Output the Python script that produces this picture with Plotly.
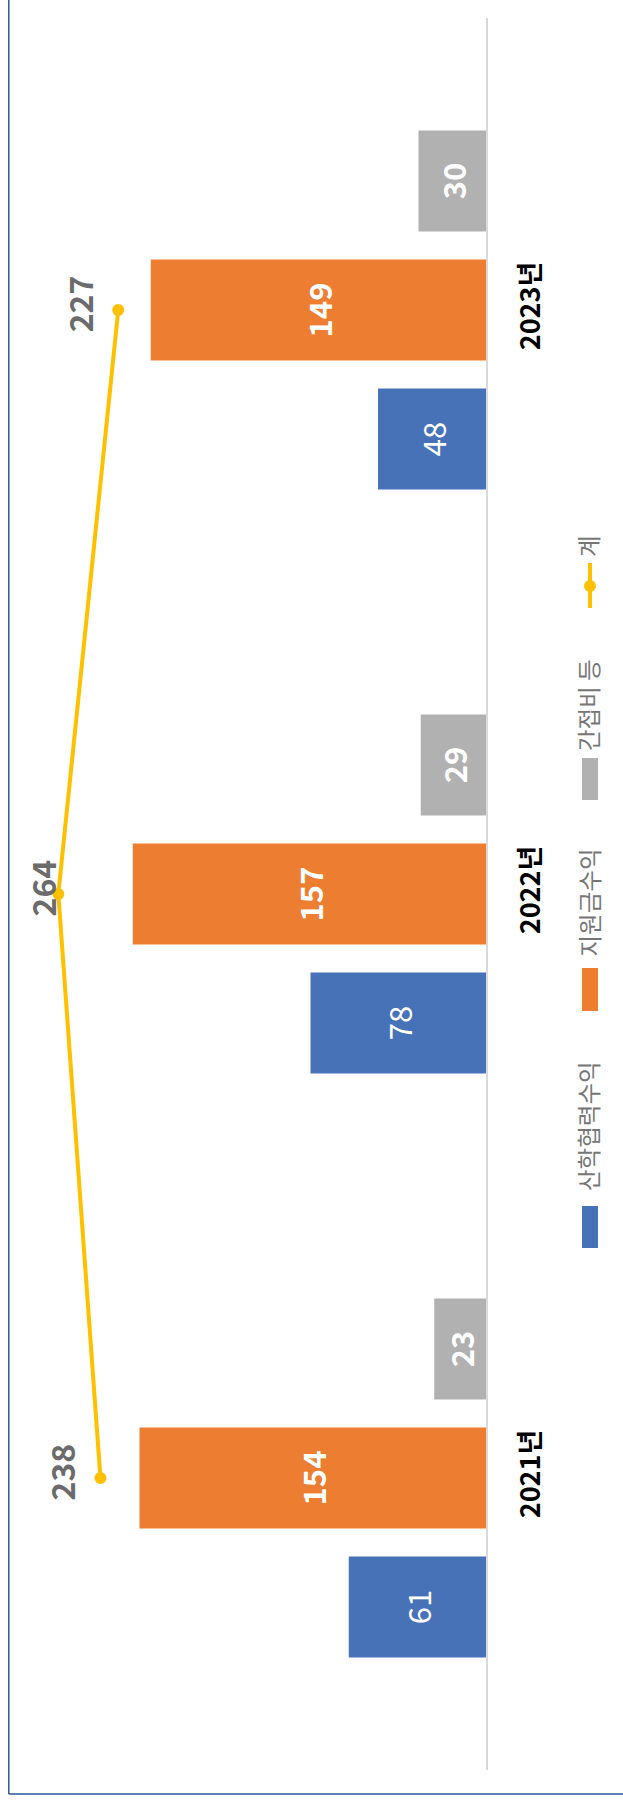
import plotly.graph_objects as go

# ---- data ----
categories = ["2021년", "2022년", "2023년"]
series_names = ["산학협력수익", "지원금수익", "간접비 등", "계"]
industry = [61, 78, 48]
support = [154, 157, 149]
indirect = [23, 29, 30]
total = [238, 264, 227]
colors = ["#4872B8", "#ED7D31", "#B1B1B1", "#FFC000"]

# ---- geometry (body margin removed in post_script) ----
OFF = 0
W, H = 623, 1800
L, R, T, B = 10, 137, 18, 30
PW = W - L - R
PH = H - T - B
X1_MAX = PW / 2.25
X2_MAX = PW / 1.62
FONT = "Noto Sans CJK KR"


def px_x(px):
    return (px - OFF - L) / PW


def px_y(py):
    return (H - B - (py - OFF)) / PH


fig = go.Figure()
bar_weights = ["normal", "bold", "bold"]
for name, vals, col, wt in zip(series_names[:3], [industry, support, indirect], colors[:3], bar_weights):
    fig.add_trace(go.Bar(
        x=vals, y=categories, orientation="h", name=name,
        marker=dict(color=col, line=dict(width=0)),
        text=[str(v) for v in vals], textposition="inside", insidetextanchor="middle",
        textangle=-90, constraintext="none",
        textfont=dict(family=FONT, size=31, color="white", weight=wt),
        xaxis="x", yaxis="y", hoverinfo="skip",
    ))

fig.add_trace(go.Scatter(
    x=total, y=categories, mode="lines+markers", name=series_names[3],
    xaxis="x2", yaxis="y",
    line=dict(color=colors[3], width=4),
    marker=dict(size=12, color=colors[3]),
))

annotations = []
# line value labels
base_px = OFF + L + PW
for v, c in zip(total, categories):
    p = base_px - v * PW / X2_MAX
    lab = max(p - 39, 41.5)
    annotations.append(dict(
        x=v, y=c, xref="x2", yref="y", text=str(v), showarrow=False,
        textangle=-90, xanchor="center", yanchor="middle",
        xshift=lab - p, yshift=6,
        font=dict(family=FONT, size=32, color="#6B6B6B", weight="bold"),
    ))

shapes = []
# manual legend (rotated)
legend_rects = [(1206, 1248), (968, 1011), (758, 800)]
legend_text_y = [1126, 902.5, 705, 546]
for (y0, y1), col in zip(legend_rects, colors[:3]):
    shapes.append(dict(type="rect", xref="paper", yref="paper",
                       x0=px_x(582), x1=px_x(598), y0=px_y(y1), y1=px_y(y0),
                       fillcolor=col, line=dict(width=0)))
shapes.append(dict(type="line", xref="paper", yref="paper",
                   x0=px_x(590), x1=px_x(590), y0=px_y(608), y1=px_y(563),
                   line=dict(color=colors[3], width=4)))
shapes.append(dict(type="circle", xref="paper", yref="paper",
                   x0=px_x(584), x1=px_x(596), y0=px_y(592), y1=px_y(580),
                   fillcolor=colors[3], line=dict(width=0)))
for name, ty in zip(series_names, legend_text_y):
    annotations.append(dict(
        x=px_x(588), y=px_y(ty), xref="paper", yref="paper", text=name,
        showarrow=False, textangle=-90, xanchor="center", yanchor="middle",
        font=dict(family=FONT, size=23.5, color="#767676"),
    ))

# chart border (left and bottom visible)
shapes.append(dict(type="line", xref="paper", yref="paper",
                   x0=px_x(8.8), x1=px_x(8.8), y0=px_y(1794), y1=px_y(-20),
                   line=dict(color="#2F5597", width=1.5)))
shapes.append(dict(type="line", xref="paper", yref="paper",
                   x0=px_x(8.8), x1=px_x(623), y0=px_y(1794), y1=px_y(1794),
                   line=dict(color="#2F5597", width=1.5)))

fig.update_layout(
    width=W, height=H,
    margin=dict(l=L, r=R, t=T, b=B, pad=0),
    paper_bgcolor="white", plot_bgcolor="white",
    showlegend=False,
    barmode="group", bargap=0.337, bargroupgap=0.217,
    xaxis=dict(range=[X1_MAX, 0], visible=False, domain=[0, 1]),
    xaxis2=dict(range=[X2_MAX, 0], visible=False, overlaying="x"),
    yaxis=dict(type="category", range=[-0.5, 2.5], side="right",
               showline=True, linecolor="#D9D9D9", linewidth=1.5,
               showgrid=False, zeroline=False, ticks="",
               tickangle=-90, ticklabelstandoff=20,
               tickfont=dict(family=FONT, size=27, color="black", weight="bold")),
    annotations=annotations,
    shapes=shapes,
)

fig.write_html(
    "out.html",
    config={"displayModeBar": False},
    post_script="document.body.style.margin='0';document.body.style.overflow='hidden';",
)
